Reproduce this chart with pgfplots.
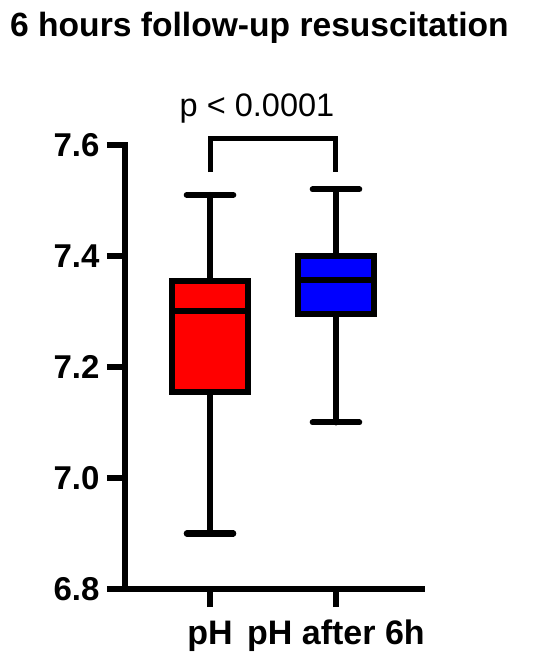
\documentclass[border=0pt]{standalone}
\usepackage{fontspec}
\setmainfont{Liberation Sans}
\usepackage{pgfplots}
\pgfplotsset{compat=1.18}
\usepgfplotslibrary{statistics}

\definecolor{boxred}{RGB}{255,0,0}
\definecolor{boxblue}{RGB}{0,0,255}

\begin{document}
\begin{tikzpicture}
\useasboundingbox (0,0) rectangle (550pt,660pt);
% title and test result
\node[anchor=base west, inner sep=0, font=\fontsize{33.6}{38}\selectfont\bfseries]
  at (10pt,623pt) {6 hours follow-up resuscitation};
\node[anchor=base, inner sep=0, font=\fontsize{32.5}{38}\selectfont]
  at (257pt,543pt) {p < 0.0001};
\begin{axis}[
  at={(125pt,71pt)}, anchor=south west,
  scale only axis, width=297pt, height=444pt,
  xmin=0.325, xmax=2.683, ymin=6.8, ymax=7.6,
  axis lines=left,
  axis line style={-, line width=5.5pt, line cap=rect},
  tick align=outside, major tick length=18pt,
  tick style={black, line width=5.5pt},
  xtick={1,2}, xticklabels={pH, pH after 6h},
  ytick={6.8,7.0,7.2,7.4,7.6},
  xticklabel style={font=\fontsize{34}{38}\selectfont\bfseries, yshift=-9pt,
    text height=25pt, text depth=7pt},
  yticklabel style={font=\fontsize{33}{36}\selectfont\bfseries, xshift=-4pt,
    /pgf/number format/.cd, fixed, fixed zerofill, precision=1, assume math mode=true},
  clip=false,
  boxplot/draw direction=y,
  boxplot/every whisker/.style={line cap=round},
]
\addplot[draw=black, fill=boxred, line width=6pt,
  boxplot prepared={lower whisker=6.90, lower quartile=7.155, median=7.30,
    upper quartile=7.355, upper whisker=7.51,
    draw position=1, box extend=0.6, whisker extend=0.37}] coordinates {};
\addplot[draw=black, fill=boxblue, line width=6pt,
  boxplot prepared={lower whisker=7.10, lower quartile=7.295, median=7.357,
    upper quartile=7.40, upper whisker=7.52,
    draw position=2, box extend=0.6, whisker extend=0.37}] coordinates {};
% significance bracket
\draw[line width=5pt] (axis cs:1,7.551) |- (axis cs:2,7.6126) -- (axis cs:2,7.551);
\end{axis}
\end{tikzpicture}
\end{document}
